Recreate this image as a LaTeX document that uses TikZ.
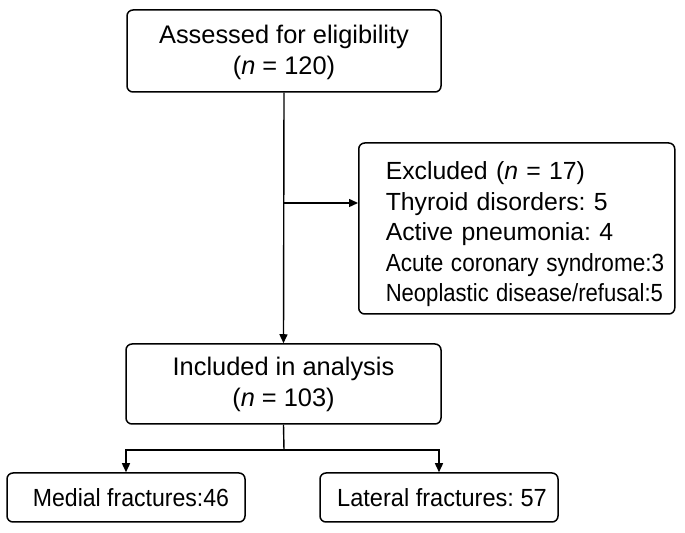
\documentclass[tikz,border=0pt]{standalone}
\usepackage{fontspec}
\setmainfont{Liberation Sans}
\usepackage{graphicx}
\usetikzlibrary{arrows.meta}
\frenchspacing

\begin{document}
\begin{tikzpicture}[
        x=0.5pt, y=-0.5pt,
        box/.style   = {draw, rounded corners=3pt, line width=0.75pt, align=center, inner sep=0pt, font=\fontsize{12.7}{15.5}\selectfont},
        small/.style = {font=\fontsize{12.4}{15}\selectfont},
        listbox/.style = {draw, rounded corners=3pt, line width=0.75pt, align=left, inner xsep=13.5pt, inner ysep=0pt, text width=131pt, font=\fontsize{12.4}{15.25}\selectfont},
        arrow/.style = {-{Triangle[length=4.5pt, width=4pt]}, line width=0.7pt},
        link/.style  = {line width=0.7pt},
    ]
        \useasboundingbox (0,0) rectangle (685,533);

        \node[box, minimum width=157pt, minimum height=41pt] (assess) at (284,51) {\rule{0pt}{11pt}Assessed for eligibility\\(\textit{n} = 120)};

        \node[listbox, minimum height=85.5pt, anchor=west] (excl) at (358,228.5) {\rule{0pt}{15pt}Excluded (\textit{n} = 17)\\Thyroid disorders: 5\\Active pneumonia: 4\\\scalebox{0.91}[1]{Acute coronary syndrome:3}\\\scalebox{0.89}[1]{Neoplastic disease/refusal:5}};

        \node[box, minimum width=157.5pt, minimum height=40pt] (incl) at (283.5,384) {Included in analysis\\(\textit{n} = 103)};

        \node[box, small, minimum width=119pt, minimum height=24.5pt] (medial) at (126,497.5) {\hspace*{5pt}\scalebox{0.93}[1]{Medial fractures:46}};
        \node[box, small, minimum width=119pt, minimum height=24.5pt] (lateral) at (439,497.5) {\hspace*{3pt}\scalebox{0.95}[1]{Lateral fractures: 57}};

        \coordinate (split) at (284,203);
        \coordinate (fork) at (284,450);

        \draw[arrow] (assess.south) -- (incl.north);
        \draw[arrow] (split) -- (split -| excl.west);
        \draw[link] (incl.south) -- (fork);
        \draw[arrow] (fork) -| (medial.north);
        \draw[arrow] (fork) -| (lateral.north);
    \end{tikzpicture}
\end{document}
